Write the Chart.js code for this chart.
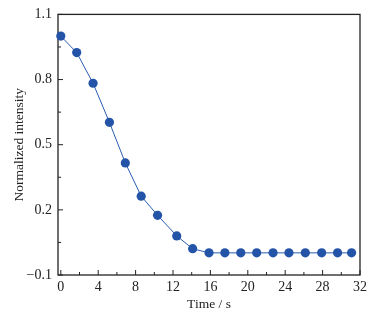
<!DOCTYPE html>
<html>
<head>
<meta charset="utf-8">
<script src="https://cdn.jsdelivr.net/npm/chart.js@4"></script>
<style>
  html, body { margin: 0; padding: 0; background: #fff; }
  #wrap { width: 382px; height: 314px; }
</style>
</head>
<body>
<div id="wrap"><canvas id="myChart"></canvas></div>
<script>
// data
var times = [0, 1.7, 3.45, 5.2, 6.9, 8.6, 10.35, 12.4, 14.1, 15.85, 17.55, 19.25, 20.95, 22.7, 24.4, 26.15, 27.9, 29.6, 31.1];
var intensity = [1.0, 0.924, 0.783, 0.603, 0.416, 0.263, 0.175, 0.08, 0.021, 0.002, 0.002, 0.002, 0.002, 0.002, 0.002, 0.002, 0.002, 0.002, 0.002];
var xTicks = [0, 4, 8, 12, 16, 20, 24, 28, 32];
var xMinor = [2, 6, 10, 14, 18, 22, 26, 30];
var yTicks = [-0.1, 0.2, 0.5, 0.8, 1.1];
var yMinor = [0.05, 0.35, 0.65, 0.95];

var points = times.map(function (t, i) { return { x: t, y: intensity[i] }; });

// frame and inward ticks
var frame = {
  id: 'frame',
  beforeDatasetsDraw: function (chart) {
    var c = chart.ctx, a = chart.chartArea;
    var xs = chart.scales.x, ys = chart.scales.y;
    c.save();
    c.strokeStyle = '#222';
    c.lineWidth = 1.3;
    c.strokeRect(a.left, a.top, a.right - a.left, a.bottom - a.top);
    c.lineWidth = 1;
    c.beginPath();
    xTicks.forEach(function (v) {
      var px = xs.getPixelForValue(v);
      c.moveTo(px, a.bottom); c.lineTo(px, a.bottom - 5);
    });
    xMinor.forEach(function (v) {
      var px = xs.getPixelForValue(v);
      c.moveTo(px, a.bottom); c.lineTo(px, a.bottom - 3);
    });
    yTicks.forEach(function (v) {
      var py = ys.getPixelForValue(v);
      c.moveTo(a.left, py); c.lineTo(a.left + 5, py);
    });
    yMinor.forEach(function (v) {
      var py = ys.getPixelForValue(v);
      c.moveTo(a.left, py); c.lineTo(a.left + 3, py);
    });
    c.stroke();
    c.restore();
  }
};

var ctx = document.getElementById('myChart').getContext('2d');
var myChart = new Chart(ctx, {
  type: 'scatter',
  data: {
    datasets: [{
      data: points,
      showLine: true,
      borderColor: '#2a5cb0',
      borderWidth: 1,
      backgroundColor: '#2354a8',
      pointBorderColor: '#2354a8',
      pointRadius: 4.6,
      pointBorderWidth: 0,
      clip: 10
    }]
  },
  options: {
    responsive: true,
    maintainAspectRatio: false,
    animation: false,
    layout: { padding: { left: 11, right: 22, top: 14, bottom: 0 } },
    plugins: {
      legend: { display: false },
      tooltip: { enabled: false }
    },
    scales: {
      x: {
        type: 'linear',
        min: -0.3,
        max: 32,
        afterBuildTicks: function (s) { s.ticks = xTicks.map(function (v) { return { value: v }; }); },
        afterFit: function (s) { s.height = 39; },
        grid: { display: false, drawTicks: false },
        border: { display: false },
        ticks: {
          padding: 4,
          color: '#222',
          maxRotation: 0,
          font: { family: 'Liberation Serif', size: 14 }
        },
        title: {
          display: true,
          text: 'Time / s',
          color: '#222',
          padding: { top: 0, bottom: 1 },
          font: { family: 'Liberation Serif', size: 13.5 }
        }
      },
      y: {
        min: -0.1,
        max: 1.1,
        afterBuildTicks: function (s) { s.ticks = yTicks.map(function (v) { return { value: v }; }); },
        afterFit: function (s) { s.width = 47; },
        grid: { display: false, drawTicks: false },
        border: { display: false },
        ticks: {
          padding: 6,
          color: '#222',
          font: { family: 'Liberation Serif', size: 14 },
          callback: function (v) { return v < 0 ? '\u2212' + Math.abs(v).toFixed(1) : v.toFixed(1); }
        },
        title: {
          display: true,
          text: 'Normalized intensity',
          color: '#222',
          padding: { top: 0, bottom: 0 },
          font: { family: 'Liberation Serif', size: 13.5 }
        }
      }
    }
  },
  plugins: [frame]
});
</script>
</body>
</html>
